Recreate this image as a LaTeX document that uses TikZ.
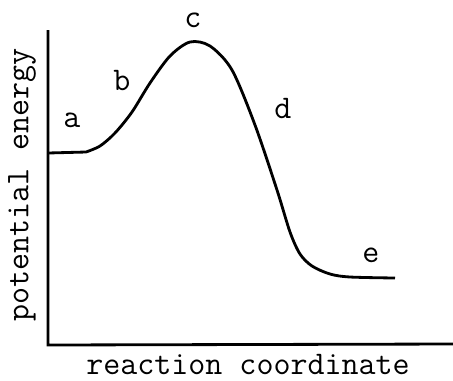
\documentclass[tikz,border=0pt]{standalone}
\begin{document}
\begin{tikzpicture}[x=0.02cm, y=-0.02cm,
    lbl/.style={font=\ttfamily\fontsize{18.8}{20}\selectfont, inner sep=0pt}]
    \useasboundingbox (0,0) rectangle (453,380);
    % Axes
    \coordinate (top) at (48,30);
    \coordinate (origin) at (48,345);
    \coordinate (right) at (453,344);
    \draw[line width=1.6pt] (top) -- (origin) -- (right);
    % Energy profile
    \draw[line width=1.6pt, line join=round] (48,153) -- (86,152)
        plot[smooth, tension=0.5] coordinates {(86,152) (100,146) (115,133) (132,112)
        (150,83) (170,56) (190,42) (210,46) (232,70) (255,125) (277,190) (290,232)
        (300,254) (312,266) (330,274) (350,277) (395,278)};
    % Labels
    \node[lbl] (a) at (72,120) {a};
    \node[lbl] (b) at (122,80) {b};
    \node[lbl] (c) at (193,20) {c};
    \node[lbl] (d) at (283,108) {d};
    \node[lbl] (e) at (371,255) {e};
    \node[lbl, rotate=90] (ylab) at (22,185) {potential energy};
    \node[lbl] (xlab) at (248,364) {reaction coordinate};
\end{tikzpicture}
\end{document}
